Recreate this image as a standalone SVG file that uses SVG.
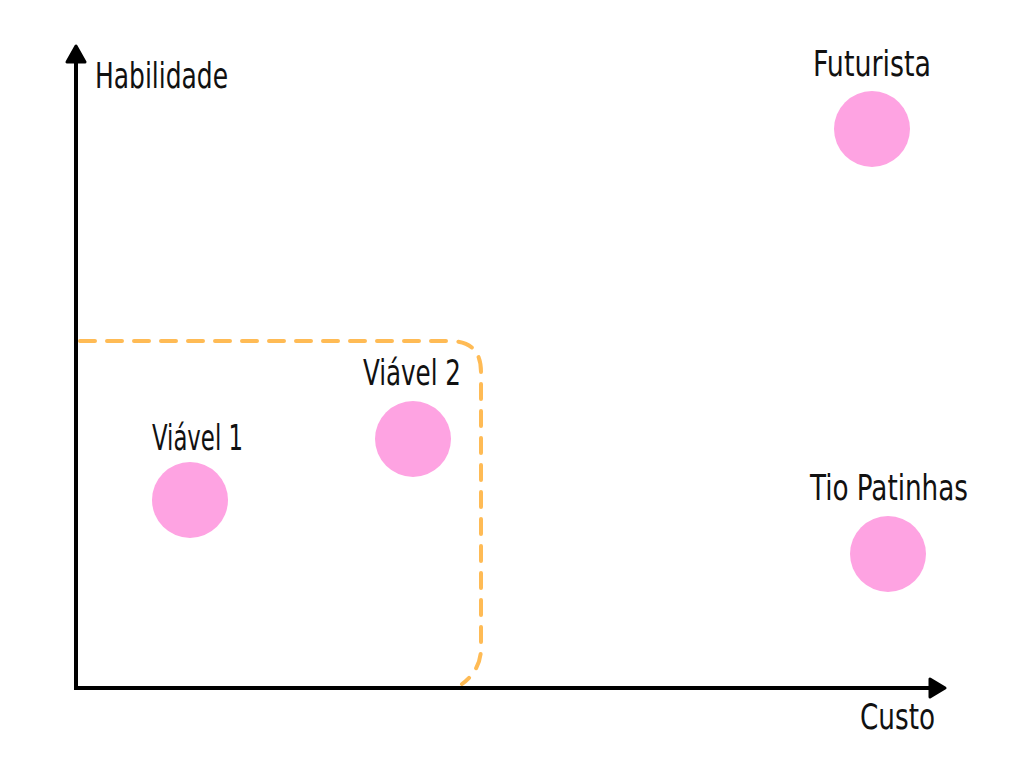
<svg xmlns="http://www.w3.org/2000/svg" width="1024" height="768" viewBox="0 0 1024 768">
<style>
.lbl{font-family:"Liberation Sans Narrow","DejaVu Sans Condensed","Liberation Sans",sans-serif;font-size:36px;fill:#111;}
.dot{fill:#FEA3E2;}
.axis{stroke:#000;stroke-width:4;fill:none;}
.head{fill:#000;stroke:#000;stroke-width:3;stroke-linejoin:round;}
.zone{fill:none;stroke:#FFBB55;stroke-width:4;stroke-linecap:round;stroke-dasharray:15 12;}
</style>
<rect width="1024" height="768" fill="#fff"/>
<g id="connectors">
<line class="axis" x1="76" y1="60" x2="76" y2="690"/>
<polygon class="head" points="76,46 67,62 85,62"/>
<line class="axis" x1="74" y1="688" x2="932" y2="688"/>
<polygon class="head" points="945,688 930,679 930,697"/>
<path class="zone" d="M80,341 H450 Q481,341 481,372 V648 Q481,670 462,684"/>
</g>
<g id="axis-y-label"><text class="lbl" x="95" y="88" textLength="133" lengthAdjust="spacingAndGlyphs">Habilidade</text></g>
<g id="axis-x-label"><text class="lbl" x="860" y="729" textLength="75" lengthAdjust="spacingAndGlyphs">Custo</text></g>
<g id="futurista"><circle class="dot" cx="872" cy="129" r="38"/><text class="lbl" x="813" y="76" textLength="118" lengthAdjust="spacingAndGlyphs">Futurista</text></g>
<g id="viavel2"><circle class="dot" cx="413" cy="439" r="38"/><text class="lbl" x="363" y="385" textLength="98" lengthAdjust="spacingAndGlyphs">Viável 2</text></g>
<g id="viavel1"><circle class="dot" cx="190" cy="500" r="38"/><text class="lbl" x="152" y="450" textLength="91" lengthAdjust="spacingAndGlyphs">Viável 1</text></g>
<g id="tio-patinhas"><circle class="dot" cx="888" cy="554" r="38"/><text class="lbl" x="810" y="500" textLength="158" lengthAdjust="spacingAndGlyphs">Tio Patinhas</text></g>
</svg>
